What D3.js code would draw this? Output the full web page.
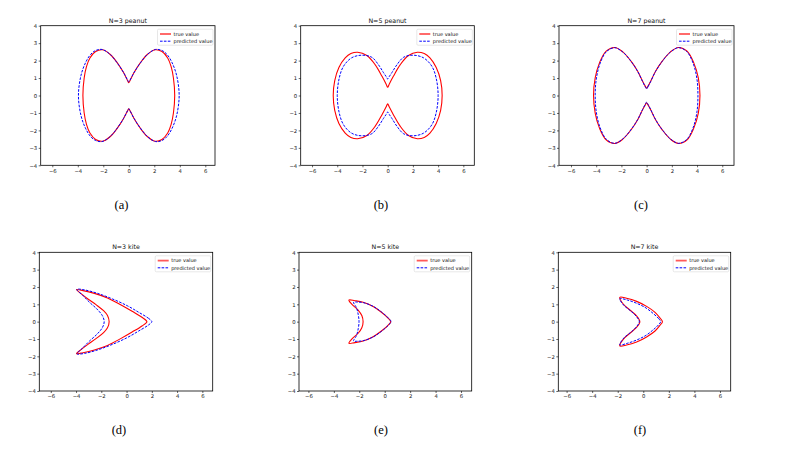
<!DOCTYPE html>
<html><head><meta charset="utf-8">
<script src="https://cdn.jsdelivr.net/npm/d3@7"></script>
<style>body{margin:0;background:#fff;}svg{display:block}</style>
</head><body>
<svg id="chart" width="806" height="450"></svg>
<script>
// ---------- data ----------
const titles = ["N=3 peanut","N=5 peanut","N=7 peanut","N=3 kite","N=5 kite","N=7 kite"];
const captions = ["(a)","(b)","(c)","(d)","(e)","(f)"];
const xTickValues = [-6,-4,-2,0,2,4,6];
const yTickValues = [-4,-3,-2,-1,0,1,2,3,4];
const seriesNames = ["true value","predicted value"];

const peanutTrueN3 = [[0,0.74],[0.1,0.86],[0.4,1.3],[0.9,1.87],[1.45,2.35],[2.05,2.62],[2.6,2.52],[3.05,2.15],[3.32,1.65],[3.5,1.0],[3.6,0],
 [3.5,-1.0],[3.32,-1.65],[3.05,-2.15],[2.6,-2.52],[2.05,-2.62],[1.45,-2.35],[0.9,-1.87],[0.4,-1.3],[0.1,-0.88],[0,-0.76],
 [-0.1,-0.88],[-0.4,-1.3],[-0.9,-1.87],[-1.45,-2.35],[-2.05,-2.62],[-2.6,-2.52],[-3.05,-2.15],[-3.32,-1.65],[-3.5,-1.0],[-3.6,0],
 [-3.5,1.0],[-3.32,1.65],[-3.05,2.15],[-2.6,2.52],[-2.05,2.62],[-1.45,2.35],[-0.9,1.87],[-0.4,1.3],[-0.1,0.86]];
const peanutPredN3 = [[0,0.78],[0.1,0.89],[0.4,1.3],[0.9,1.86],[1.5,2.38],[2.1,2.64],[2.6,2.58],[3.0,2.35],[3.4,1.87],[3.75,1.15],[3.95,0],
 [3.75,-1.15],[3.4,-1.87],[3.0,-2.35],[2.6,-2.58],[2.1,-2.64],[1.5,-2.38],[0.9,-1.86],[0.4,-1.3],[0.1,-0.88],[0,-0.76],
 [-0.1,-0.88],[-0.4,-1.3],[-0.9,-1.86],[-1.5,-2.38],[-2.1,-2.64],[-2.6,-2.58],[-3.0,-2.35],[-3.4,-1.87],[-3.75,-1.15],[-3.95,0],
 [-3.75,1.15],[-3.4,1.87],[-3.0,2.35],[-2.6,2.58],[-2.1,2.64],[-1.5,2.38],[-0.9,1.86],[-0.4,1.3],[-0.1,0.89]];

const peanutTrueN5 = [[0,0.47],[0.12,0.65],[0.45,1.1],[1.0,1.77],[1.65,2.29],[2.35,2.48],[2.9,2.4],[3.35,2.15],[3.85,1.6],[4.2,0.85],[4.32,0],
 [4.2,-0.85],[3.85,-1.6],[3.35,-2.15],[2.9,-2.4],[2.35,-2.48],[1.65,-2.29],[1.0,-1.77],[0.45,-1.1],[0.12,-0.65],[0,-0.47],
 [-0.12,-0.65],[-0.45,-1.1],[-1.0,-1.77],[-1.65,-2.29],[-2.38,-2.48],[-2.92,-2.4],[-3.37,-2.15],[-3.87,-1.6],[-4.2,-0.85],[-4.32,0],
 [-4.2,0.85],[-3.87,1.6],[-3.37,2.15],[-2.92,2.4],[-2.38,2.48],[-1.65,2.29],[-1.0,1.77],[-0.45,1.1],[-0.12,0.65]];
const peanutPredN5 = [[0,0.95],[0.12,1.08],[0.34,1.32],[0.74,1.77],[1.26,2.19],[2.0,2.31],[2.84,2.16],[3.5,1.68],[3.84,1.01],[4.0,0],
 [3.84,-1.01],[3.5,-1.68],[2.84,-2.16],[2.0,-2.31],[1.26,-2.19],[0.74,-1.77],[0.34,-1.32],[0.12,-1.08],[0,-0.95],
 [-0.12,-1.08],[-0.34,-1.32],[-0.74,-1.77],[-1.26,-2.19],[-2.05,-2.31],[-2.86,-2.16],[-3.5,-1.68],[-3.84,-1.01],[-4.0,0],
 [-3.84,1.01],[-3.5,1.68],[-2.86,2.16],[-2.05,2.31],[-1.26,2.19],[-0.74,1.77],[-0.34,1.32],[-0.12,1.08]];

const peanutTrueN7 = [[0,0.42],[0.12,0.55],[0.32,0.82],[0.71,1.39],[1.24,1.97],[1.89,2.5],[2.53,2.75],[3.21,2.54],[3.74,1.87],[4.1,1.01],[4.23,0],
 [4.1,-1.01],[3.74,-1.87],[3.21,-2.54],[2.53,-2.75],[1.89,-2.5],[1.24,-1.97],[0.71,-1.39],[0.32,-0.82],[0.12,-0.55],[0,-0.42],
 [-0.12,-0.55],[-0.32,-0.82],[-0.71,-1.39],[-1.24,-1.97],[-1.89,-2.5],[-2.53,-2.75],[-3.21,-2.54],[-3.74,-1.87],[-4.08,-1.01],[-4.21,0],
 [-4.08,1.01],[-3.74,1.87],[-3.21,2.54],[-2.53,2.75],[-1.89,2.5],[-1.24,1.97],[-0.71,1.39],[-0.32,0.82],[-0.12,0.55]];
const peanutPredN7 = [[0,0.38],[0.12,0.52],[0.32,0.8],[0.71,1.38],[1.24,1.96],[1.89,2.49],[2.53,2.74],[3.18,2.52],[3.68,1.86],[3.98,1.0],[4.07,0],
 [3.98,-1.0],[3.68,-1.86],[3.18,-2.52],[2.53,-2.74],[1.89,-2.49],[1.24,-1.96],[0.71,-1.38],[0.32,-0.8],[0.12,-0.52],[0,-0.38],
 [-0.12,-0.52],[-0.32,-0.8],[-0.71,-1.38],[-1.24,-1.96],[-1.89,-2.49],[-2.53,-2.74],[-3.18,-2.52],[-3.68,-1.86],[-3.98,-1.0],[-4.08,0],
 [-3.98,1.0],[-3.68,1.86],[-3.18,2.52],[-2.53,2.74],[-1.89,2.49],[-1.24,1.96],[-0.71,1.38],[-0.32,0.8],[-0.12,0.52]];

const kiteTrueN3 = [[1.61,0],[1.22,0.25],[0.44,0.6],[-0.47,0.98],[-1.51,1.37],[-2.55,1.63],[-3.45,1.79],[-3.97,1.85],
 [-3.58,1.6],[-3.06,1.31],[-2.42,0.98],[-1.82,0.63],[-1.51,0.35],[-1.38,0],[-1.51,-0.35],[-1.82,-0.63],[-2.42,-0.98],[-3.06,-1.31],[-3.58,-1.6],
 [-3.97,-1.85],[-3.45,-1.79],[-2.55,-1.63],[-1.51,-1.37],[-0.47,-0.98],[0.44,-0.6],[1.22,-0.25]];
const kitePredN3 = [[2.0,0],[1.74,0.19],[0.96,0.54],[0.05,0.92],[-1.12,1.31],[-2.29,1.63],[-3.32,1.83],[-3.93,1.86],
 [-3.45,1.5],[-2.94,1.12],[-2.35,0.73],[-1.92,0.35],[-1.77,0],[-1.92,-0.35],[-2.35,-0.73],[-2.94,-1.12],[-3.45,-1.5],
 [-3.93,-1.86],[-3.32,-1.83],[-2.29,-1.63],[-1.12,-1.31],[0.05,-0.92],[0.96,-0.54],[1.74,-0.19]];

const kiteTrueN5 = [[0.47,0],[0.26,0.21],[-0.26,0.54],[-0.91,0.87],[-1.7,1.12],[-2.35,1.21],[-2.82,1.25],
 [-2.61,1.02],[-2.09,0.67],[-1.8,0.35],[-1.7,0],[-1.8,-0.35],[-2.09,-0.67],[-2.61,-1.02],
 [-2.82,-1.25],[-2.35,-1.21],[-1.7,-1.12],[-0.91,-0.87],[-0.26,-0.54],[0.26,-0.21]];
const kitePredN5 = [[0.5,0],[0.28,0.21],[-0.24,0.55],[-0.9,0.88],[-1.7,1.1],[-2.2,1.13],[-2.45,1.12],
 [-2.22,0.8],[-2.08,0.4],[-2.02,0],[-2.08,-0.4],[-2.22,-0.8],
 [-2.45,-1.12],[-2.2,-1.13],[-1.7,-1.1],[-0.9,-0.88],[-0.24,-0.55],[0.28,-0.21]];

const kiteTrueN7 = [[1.5,0],[1.31,0.21],[0.92,0.54],[0.26,0.88],[-0.52,1.17],[-1.31,1.35],[-1.84,1.4],
 [-1.57,1.02],[-1.05,0.67],[-0.55,0.35],[-0.27,0],[-0.55,-0.35],[-1.05,-0.67],[-1.57,-1.02],
 [-1.84,-1.4],[-1.31,-1.35],[-0.52,-1.17],[0.26,-0.88],[0.92,-0.54],[1.31,-0.21]];
const kitePredN7 = [[1.36,0],[1.21,0.17],[0.79,0.46],[0.21,0.79],[-0.52,1.06],[-1.26,1.25],[-1.84,1.32],
 [-1.52,0.94],[-1.0,0.63],[-0.55,0.31],[-0.31,0],[-0.55,-0.31],[-1.0,-0.63],[-1.52,-0.94],
 [-1.84,-1.34],[-1.26,-1.25],[-0.52,-1.06],[0.21,-0.79],[0.79,-0.46],[1.21,-0.17]];

const trueCurves = [peanutTrueN3, peanutTrueN5, peanutTrueN7, kiteTrueN3, kiteTrueN5, kiteTrueN7];
const predCurves = [peanutPredN3, peanutPredN5, peanutPredN7, kitePredN3, kitePredN5, kitePredN7];

// ---------- layout (positions only) ----------
const frames = [
  {left:40.7, right:215, top:25.7, bottom:165.3, xd:[-6.91,6.76], cx:121.5, cy:209},
  {left:300.7, right:474.3, top:25.7, bottom:165.3, xd:[-6.90,6.87], cx:381, cy:209},
  {left:559, right:734, top:25.7, bottom:165.3, xd:[-6.95,6.93], cx:641, cy:209},
  {left:39.3, right:212.7, top:252.3, bottom:391, xd:[-6.91,6.82], cx:119, cy:434},
  {left:299, right:471.7, top:252.3, bottom:391, xd:[-6.74,6.84], cx:381, cy:434},
  {left:558.3, right:730.7, top:252.3, bottom:391, xd:[-6.65,6.84], cx:640, cy:434}
];
const RED = "#ff0000", BLUE = "#0000ff";
const FONT = "'DejaVu Sans', sans-serif";

const svg = d3.select("#chart");
svg.append("rect").attr("width",806).attr("height",450).attr("fill","#fff");

frames.forEach((f, i) => {
  const x = d3.scaleLinear().domain(f.xd).range([f.left, f.right]);
  const y = d3.scaleLinear().domain([-4, 4]).range([f.bottom, f.top]);
  const g = svg.append("g");

  const fmt = v => (v < 0 ? "\u2212" + Math.abs(v) : String(v));
  const xa = g.append("g").attr("transform", `translate(0,${f.bottom})`)
    .call(d3.axisBottom(x).tickValues(xTickValues).tickSize(2).tickPadding(1.5).tickFormat(fmt));
  const ya = g.append("g").attr("transform", `translate(${f.left},0)`)
    .call(d3.axisLeft(y).tickValues(yTickValues).tickSize(2).tickPadding(1.5).tickFormat(fmt));
  [xa, ya].forEach(a => {
    a.select(".domain").remove();
    a.selectAll("line").attr("stroke", "#000").attr("stroke-width", 0.6);
    a.selectAll("text").attr("font-family", FONT).attr("font-size", 5.3).attr("fill", "#111");
  });

  const clipId = "clip" + i;
  g.append("clipPath").attr("id", clipId).append("rect")
    .attr("x", f.left).attr("y", f.top).attr("width", f.right - f.left).attr("height", f.bottom - f.top);

  const line = d3.line().x(d => x(d[0])).y(d => y(d[1])).curve(d3.curveCatmullRomClosed.alpha(0.5));
  const pg = g.append("g").attr("clip-path", `url(#${clipId})`);
  pg.append("path").attr("d", line(trueCurves[i])).attr("fill", "none")
    .attr("stroke", RED).attr("stroke-width", 1.1).attr("stroke-linejoin", "round");
  pg.append("path").attr("d", line(predCurves[i])).attr("fill", "none")
    .attr("stroke", BLUE).attr("stroke-width", 1.0).attr("stroke-dasharray", "2.6,1.3");

  g.append("rect").attr("x", f.left).attr("y", f.top)
    .attr("width", f.right - f.left).attr("height", f.bottom - f.top)
    .attr("fill", "none").attr("stroke", "#000").attr("stroke-width", 0.8);

  g.append("text").attr("x", (f.left + f.right) / 2).attr("y", f.top - 3)
    .attr("text-anchor", "middle").attr("font-family", FONT).attr("font-size", 6.3)
    .attr("fill", "#111").text(titles[i]);

  // legend
  const lx = f.right - 57.5, ly = f.top + 3.5;
  const lg = g.append("g");
  lg.append("rect").attr("x", lx).attr("y", ly).attr("width", 55.5).attr("height", 16)
    .attr("rx", 1.2).attr("fill", "#fff").attr("fill-opacity", 0.85)
    .attr("stroke", "#d6d6d6").attr("stroke-width", 0.6);
  seriesNames.forEach((name, k) => {
    const yy = ly + 4.8 + k * 7.2;
    lg.append("line").attr("x1", lx + 2.5).attr("x2", lx + 13.5).attr("y1", yy).attr("y2", yy)
      .attr("stroke", k === 0 ? RED : BLUE).attr("stroke-width", k === 0 ? 1.8 : 1.0)
      .attr("stroke-opacity", k === 0 ? 0.65 : 1)
      .attr("stroke-dasharray", k === 0 ? null : "2.6,1.3");
    lg.append("text").attr("x", lx + 16).attr("y", yy + 1.8)
      .attr("font-family", FONT).attr("font-size", 5.0).attr("fill", "#111").text(name);
  });

  svg.append("text").attr("x", f.cx).attr("y", f.cy).attr("text-anchor", "middle")
    .attr("font-family", "'Liberation Serif', 'Times New Roman', serif").attr("font-size", 12.5)
    .attr("fill", "#000").text(captions[i]);
});
</script>
</body></html>
